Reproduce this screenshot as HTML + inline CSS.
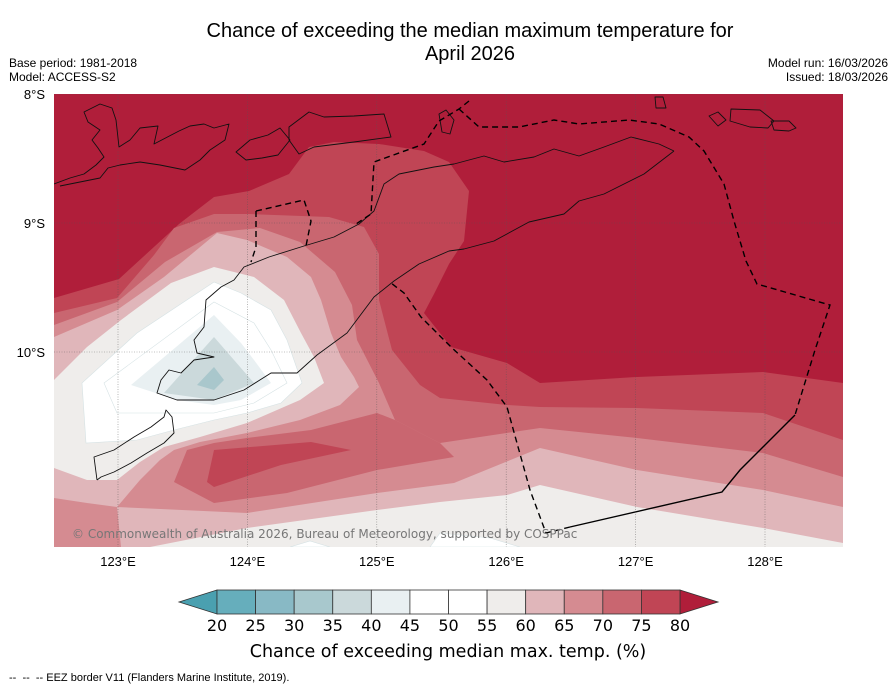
<!DOCTYPE html>
<html><head><meta charset="utf-8">
<style>
html,body{margin:0;padding:0;background:#fff;}
body{width:896px;height:690px;position:relative;overflow:hidden;font-family:"Liberation Sans","DejaVu Sans",sans-serif;}
.t{position:absolute;color:#000;white-space:nowrap;}
</style></head>
<body>
<div class="t" style="left:0;width:940px;top:20px;text-align:center;font-size:20px;line-height:23px;">Chance of exceeding the median maximum temperature for<br>April 2026</div>
<div class="t" style="left:9px;top:56px;font-size:12px;line-height:14px;">Base period: 1981-2018<br>Model: ACCESS-S2</div>
<div class="t" style="right:8px;top:56px;font-size:12px;line-height:14px;text-align:right;">Model run: 16/03/2026<br>Issued: 18/03/2026</div>
<svg id="map" width="896" height="690" style="position:absolute;left:0;top:0" xmlns="http://www.w3.org/2000/svg"></svg>
<div class="t" style="left:9px;top:672px;font-size:11px;">-- &nbsp;-- &nbsp;-- EEZ border V11 (Flanders Marine Institute, 2019).</div>
<script>
// colorbar data
const levels = [20,25,30,35,40,45,50,55,60,65,70,75,80];
const binColors = ['#66aebc','#88b9c5','#a8c8cd','#cbd9db','#e9f0f2','#ffffff','#ffffff','#efedeb','#e0b6ba','#d58b91','#c96670','#c04555'];
const underColor = '#4aa0b0';
const overColor = '#b01e3a';
const lonTicks = [123,124,125,126,127,128];
const latTicks = [8,9,10];

const NS='http://www.w3.org/2000/svg';
const svg=document.getElementById('map');
function mk(tag,attrs,parent){const e=document.createElementNS(NS,tag);for(const k in attrs)e.setAttribute(k,attrs[k]);(parent||svg).appendChild(e);return e;}
const X0=54,X1=843,Y0=94,Y1=547;
const lonX=l=>118+(l-123)*129.4;
const latY=l=>94+(l-8)*129;

const clip=mk('clipPath',{id:'mc'},mk('defs',{}));
mk('rect',{x:X0,y:Y0,width:X1-X0,height:Y1-Y0},clip);
const g=mk('g',{'clip-path':'url(#mc)'});


const c={75:'#c04555',70:'#c96670',65:'#d58b91',60:'#e0b6ba',55:'#efedeb',50:'#ffffff',45:'#ffffff',40:'#e9f0f2',35:'#cbd9db',30:'#a9c7cc'};
const P=a=>'M'+a.map(p=>p.join(',')).join('L')+'Z';
mk('rect',{x:X0,y:Y0,width:X1-X0,height:Y1-Y0,fill:overColor},g);
function poly(pts,fill,name,stroke){const e=mk('path',{d:Array.isArray(pts[0][0])?pts.map(P).join(' '):P(pts),fill:fill,stroke:stroke||'none','stroke-width':0.6},g);return e;}
poly([[54,298],[119,279],[179,224],[214,197],[249,191],[289,174],[309,147],[334,142],[379,144],[424,151],[449,162],[469,191],[464,241],[449,264],[434,294],[424,313],[451,347],[507,363],[540,383],[637,377],[763,372],[843,383],[843,547],[54,547]],c[75],'contour-75');
poly([[54,313],[117,298],[154,255],[174,228],[214,214],[249,214],[329,217],[364,227],[379,254],[379,300],[392,350],[420,385],[440,398],[507,405],[540,407],[637,408],[763,413],[843,440],[843,547],[54,547]],c[70],'contour-70');
poly([[54,325],[117,302],[165,262],[217,232],[260,228],[300,242],[335,272],[352,305],[357,340],[379,383],[395,420],[440,443],[540,428],[637,438],[763,453],[843,477],[843,547],[54,547]],c[65],'contour-65');
poly([[[54,337],[117,310],[164,277],[217,233],[247,240],[287,257],[311,277],[321,300],[331,333],[341,357],[354,377],[359,387],[340,405],[300,420],[247,433],[200,442],[174,450],[160,460],[140,480],[117,507],[87,503],[54,498]],
 [[843,507],[763,490],[637,470],[540,448],[454,483],[377,493],[247,513],[117,507],[121,547],[843,547]]],c[60],'contour-60');
poly([[[54,380],[87,347],[121,320],[171,283],[214,267],[254,277],[284,300],[301,333],[314,357],[324,383],[300,400],[247,423],[200,437],[164,447],[140,462],[117,480],[87,480],[54,468]],
 [[843,543],[763,528],[637,507],[540,485],[507,495],[440,502],[377,510],[247,528],[150,547],[843,547]]],c[55],'contour-55');
poly([[[82,383],[137,333],[214,282],[241,293],[271,310],[287,340],[302,383],[281,403],[247,413],[214,420],[174,430],[137,440],[86,443]],
 [[440,533],[490,538],[520,547],[430,547]],[[290,547],[310,541],[330,547]]],c[50],'contour-50','#d6e2e4');
poly([[104,383],[214,302],[254,323],[271,350],[287,383],[254,403],[214,413],[117,413]],c[45],'contour-45','#d6e2e4');
poly([[131,385],[214,315],[241,343],[254,360],[271,383],[241,400],[214,405],[177,400]],c[40],'contour-40');
poly([[164,393],[214,337],[234,360],[254,383],[214,400]],c[35],'contour-35');
poly([[197,385],[214,367],[224,380],[214,390]],c[30],'contour-30');
poly([[187,450],[214,443],[247,438],[311,430],[377,413],[395,420],[440,443],[454,457],[377,470],[287,493],[214,503],[174,482]],c[70],'contour-70-island');
poly([[214,450],[311,442],[351,450],[281,465],[214,487],[207,482]],c[75],'contour-75-island');

lonTicks.forEach(l=>{const e=mk('line',{x1:lonX(l),x2:lonX(l),y1:Y0,y2:Y1,stroke:'#555','stroke-width':0.6,'stroke-dasharray':'1,1.5',opacity:0.7},g);});
latTicks.forEach(l=>{const e=mk('line',{x1:X0,x2:X1,y1:latY(l),y2:latY(l),stroke:'#555','stroke-width':0.6,'stroke-dasharray':'1,1.5',opacity:0.7},g);});

const L=a=>'M'+a.map(p=>p.join(',')).join('L');
function coast(pts,name,closed){const e=mk('path',{d:L(pts)+(closed?'Z':''),fill:'none',stroke:'#111','stroke-width':0.9,'stroke-linejoin':'round'},g);}
coast([[97,480],[94,457],[114,450],[134,437],[151,427],[164,417],[166,410],[172,417],[174,433],[164,443],[147,453],[131,463],[114,472],[101,477],[97,480]],'rote-coast');
coast([[674,151],[659,144],[631,137],[604,147],[579,156],[554,149],[534,157],[504,162],[484,156],[454,164],[434,167],[399,174],[384,184],[374,211],[359,224],[334,237],[304,246],[269,257],[244,267],[234,280],[221,287],[206,300],[204,327],[194,340],[197,353],[214,357],[194,360],[181,373],[169,370],[161,380],[157,393],[177,400],[187,400],[214,400],[244,390],[271,373],[297,373],[317,355],[347,333],[374,297],[394,281],[419,264],[449,251],[464,249],[494,241],[529,222],[564,214],[579,201],[604,194],[644,174],[674,151]],'timor-coast');
coast([[289,127],[309,112],[324,117],[354,116],[384,114],[391,137],[354,142],[314,147],[299,154],[289,140]],'alor-coast',true);
coast([[54,184],[70,178],[84,174],[96,165],[104,157],[98,148],[92,140],[100,130],[88,122],[84,112],[100,104],[112,108],[116,120],[119,147],[130,140],[140,128],[158,126],[154,144],[179,131],[190,126],[204,124],[214,128],[229,124],[225,140],[210,150],[200,160],[185,170],[160,165],[140,162],[120,165],[108,168],[100,178],[80,182],[60,186]],'flores-coast');
coast([[236,152],[250,140],[268,135],[280,128],[290,140],[278,155],[262,158],[246,160]],'lembata-coast',true);
coast([[439,114],[446,110],[454,120],[450,134],[442,132]],'atauro-coast',true);
coast([[731,109],[760,110],[774,121],[768,128],[750,127],[730,121]],'island-coast-1',true);
coast([[771,121],[789,121],[796,128],[789,131],[774,130]],'island-coast-2',true);
coast([[709,116],[718,112],[726,120],[718,126]],'island-coast-3',true);
coast([[655,97],[663,97],[666,108],[656,108]],'island-coast-4',true);

function eez(pts,name,dash){const e=mk('path',{d:L(pts),fill:'none',stroke:'#000','stroke-width':1.4,'stroke-dasharray':dash?'6,4':'none'},g);}
eez([[469,101],[459,109],[439,121],[424,144],[374,162],[371,214],[356,224]],'eez-border-west',true);
eez([[256,211],[304,200],[311,221],[306,246]],'eez-border-oecusse-n',true);
eez([[256,211],[256,247],[251,262]],'eez-border-oecusse-w',true);
eez([[459,109],[479,127],[519,127],[554,120],[579,124],[629,120],[659,124],[689,137],[704,151],[724,184],[734,221],[746,261],[757,284],[830,305],[815,350],[795,415]],'eez-border-east',true);
eez([[795,415],[765,445],[740,470],[722,492],[570,527]],'eez-border-south',false);
eez([[570,527],[546,533],[530,490],[507,407],[487,380],[451,347],[421,317],[404,293],[391,283]],'eez-border-southwest',true);

const cr=mk('text',{x:72,y:538,'font-size':12,fill:'#777','font-family':'"DejaVu Sans","Liberation Sans",sans-serif'},g);
cr.textContent='© Commonwealth of Australia 2026, Bureau of Meteorology, supported by COSPPac';



lonTicks.forEach(l=>{const t=mk('text',{x:lonX(l),y:566,'text-anchor':'middle','font-size':13});t.textContent=l+'°E';});
latTicks.forEach(l=>{const t=mk('text',{x:45,y:latY(l)+5,'text-anchor':'end','font-size':13});t.textContent=l+'°S';});

const cbX0=217,cbX1=680,cbY=590,cbH=24;
const cbx=v=>cbX0+(v-levels[0])/(levels[levels.length-1]-levels[0])*(cbX1-cbX0);
const cb=mk('g',{});


const ut=mk('path',{d:`M${cbX0},${cbY}L179,${cbY+cbH/2}L${cbX0},${cbY+cbH}Z`,fill:underColor,stroke:'#333','stroke-width':0.8},cb);


const ot=mk('path',{d:`M${cbX1},${cbY}L718,${cbY+cbH/2}L${cbX1},${cbY+cbH}Z`,fill:overColor,stroke:'#333','stroke-width':0.8},cb);


binColors.forEach((col,i)=>{const r=mk('rect',{x:cbx(levels[i]),y:cbY,width:cbx(levels[i+1])-cbx(levels[i]),height:cbH,fill:col,stroke:'#333','stroke-width':0.8},cb);});
levels.forEach(v=>{const t=mk('text',{x:cbx(v),y:631,'text-anchor':'middle','font-size':16,'font-family':'"DejaVu Sans","Liberation Sans",sans-serif'},cb);t.textContent=v;});
const ct=mk('text',{x:448,y:657,'text-anchor':'middle','font-size':17.5,'font-family':'"DejaVu Sans","Liberation Sans",sans-serif'},cb);
ct.textContent='Chance of exceeding median max. temp. (%)';


</script>
</body></html>
